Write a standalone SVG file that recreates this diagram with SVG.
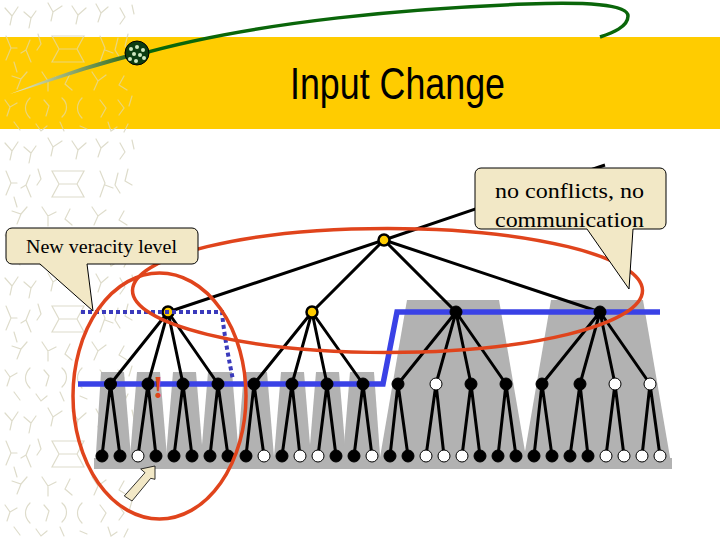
<svg xmlns="http://www.w3.org/2000/svg" xmlns:xlink="http://www.w3.org/1999/xlink" width="720" height="540" viewBox="0 0 720 540">
<style>
.edge{stroke:#000;stroke-width:3;fill:none}
.gray{fill:#b2b2b2}
.k{fill:#000;stroke:#000;stroke-width:1}
.w{fill:#fff;stroke:#000;stroke-width:1}
.y{fill:#ffcc00;stroke:#000;stroke-width:2.5}
.red{fill:none;stroke:#e0441c;stroke-width:3.500}
.call{fill:#f2e8c6;stroke:#000;stroke-width:1}
.ct{font-family:"Liberation Serif",serif;fill:#000}
.bg{fill:none;stroke:#dedccb;stroke-width:1.2;stroke-linecap:round}
</style>
<defs>
<linearGradient id="fade" x1="0" y1="0" x2="1" y2="0"><stop offset="0" stop-color="#f2ecc8"/><stop offset="1" stop-color="#2d6a1c"/></linearGradient>
<pattern id="tile" width="140" height="135" patternUnits="userSpaceOnUse">
<path class="bg" d="M5 8l7 8 6-9M12 16l-2 9M24 12l7 6 5-7M31 18l-2 10M48 3l5 9 9-6M53 12l-2 9M72 6l6 9 8-7M78 15l-2 9M96 4l5 9 7-6M101 13l-3 9M120 8l5 9M125 17l-5 7M132 5l2 9"/>
<path class="bg" d="M52 36h32l-7 13 7 13H52l7-13zM60 49h16M6 36l5 12-5 12M11 48h6M14 62l3 10M30 40l-4 10 5 12M26 50l-5 3M38 34l3 10-4 6M100 36l5 12-5 14M105 50l8 3M118 38l-3 12 5 8M128 34l-3 12M125 46l7 4"/>
<path class="bg" d="M12 76l9 3 6-7M21 79l-4 10M42 72l6 9 8-4M48 81v10M70 74l-5 10 7 6M92 72l6 9 8-6M98 81l-4 9M124 76l-5 9M119 85l8 5"/>
<path class="bg" d="M5 100l5 7 7-4M10 107l-3 9M30 98c-6 6-6 14 0 20M44 100l5 6-3 10M62 98c6 5 6 13 0 19M82 98c-6 6-6 14 0 20M100 100l6 8-5 9M118 100l6 8-5 7M132 96l-3 10"/>
<path class="bg" d="M14 122l6 8M36 124l5 7 6-5M60 122l4 9M80 126l7 3M108 122l3 9 6-4M128 124l-4 8"/>
</pattern>
</defs>
<rect width="720" height="540" fill="#fff"/>
<rect x="0" y="0" width="140" height="540" fill="url(#tile)"/>
<g id="title-bar">
<rect x="0" y="37" width="720" height="92" fill="#ffcc00"/>
<rect x="0" y="37" width="140" height="92" fill="url(#tile)" opacity=".6"/>
<text x="290" y="99" font-family="'Liberation Sans',sans-serif" font-size="44" textLength="215" lengthAdjust="spacingAndGlyphs" fill="#000">Input Change</text>
</g>
<g id="swoosh">
<path d="M10 94C50 78 85 65 128 54L129 58C90 68 50 82 10 94z" fill="url(#fade)"/>
<path d="M137 55C260 20 420 8 527 4C585 2 628 4 628 16C628 27 612 33 600 37" fill="none" stroke="#0a660a" stroke-width="3.500"/>
<circle cx="137" cy="53" r="12" fill="#0c3d12" stroke="#000"/>
<g fill="#cfe8c0"><circle cx="131" cy="49" r="2"/><circle cx="137" cy="47" r="2"/><circle cx="143" cy="50" r="2"/><circle cx="134" cy="54" r="2"/><circle cx="140" cy="55" r="2"/><circle cx="130" cy="59" r="2"/><circle cx="136" cy="61" r="2"/><circle cx="144" cy="58" r="2"/></g>
</g>
<g id="gray-shading">
<polygon class="gray" points="101,372 124,372 132,469 95,469"/>
<polygon class="gray" points="137,372 160,372 168,469 129,469"/>
<polygon class="gray" points="173,372 196,372 204,469 165,469"/>
<polygon class="gray" points="208,372 232,372 240,469 200,469"/>
<polygon class="gray" points="244,372 267,372 275,469 236,469"/>
<polygon class="gray" points="281,372 304,372 312,469 273,469"/>
<polygon class="gray" points="316,372 339,372 347,469 308,469"/>
<polygon class="gray" points="350,372 374,372 381,469 342,469"/>
<polygon class="gray" points="407,300 499,300 528,469 378,469"/>
<polygon class="gray" points="551,300 643,300 672,469 522,469"/>
<rect class="gray" x="94" y="458" width="578" height="11"/>
</g>
<g id="connectors">
<path class="edge" d="M384 240L605 165M384 240L168 312M384 240L312 312M384 240L456 312M384 240L600 312"/>
<path class="edge" d="M168 312L110.500 384M168 312L148 384M168 312L183 384M168 312L218 384M312 312L254 384M312 312L292 384M312 312L327 384M312 312L363 384M456 312L398 384M456 312L436 384M456 312L471 384M456 312L506 384M600 312L542 384M600 312L580 384M600 312L615 384M600 312L650 384"/>
<path class="edge" d="M110.500 384L102 456M110.500 384L120 456M148 384L138 456M148 384L156 456M183 384L174 456M183 384L192 456M218 384L210 456M218 384L228 456M254 384L246 456M254 384L264 456M292 384L282 456M292 384L300 456M327 384L318 456M327 384L336 456M363 384L354 456M363 384L372 456M398 384L390 456M398 384L408 456M436 384L426 456M436 384L444 456M471 384L462 456M471 384L480 456M506 384L498 456M506 384L516 456M542 384L534 456M542 384L552 456M580 384L570 456M580 384L588 456M615 384L606 456M615 384L624 456M650 384L642 456M650 384L660 456"/>
<path id="level-line" d="M78 384H383L397 312H660" fill="none" stroke="#3a42e6" stroke-width="5.500"/>
</g>
<g id="root"><circle class="y" cx="384" cy="240" r="5.500"/></g>
<g id="n1"><circle class="y" cx="168" cy="312" r="5.500"/></g>
<g id="n2"><circle class="y" cx="312" cy="312" r="5.500"/></g>
<g id="n3"><circle class="k" cx="456" cy="312" r="6"/></g>
<g id="n4"><circle class="k" cx="600" cy="312" r="6"/></g>
<g id="mid">
<circle class="k" cx="110.500" cy="384" r="6"/><circle class="k" cx="148" cy="384" r="6"/><circle class="k" cx="183" cy="384" r="6"/><circle class="k" cx="218" cy="384" r="6"/><circle class="k" cx="254" cy="384" r="6"/><circle class="k" cx="292" cy="384" r="6"/><circle class="k" cx="327" cy="384" r="6"/><circle class="k" cx="363" cy="384" r="6"/><circle class="k" cx="398" cy="384" r="6"/><circle class="w" cx="436" cy="384" r="6"/><circle class="k" cx="471" cy="384" r="6"/><circle class="k" cx="506" cy="384" r="6"/><circle class="k" cx="542" cy="384" r="6"/><circle class="k" cx="580" cy="384" r="6"/><circle class="w" cx="615" cy="384" r="6"/><circle class="w" cx="650" cy="384" r="6"/>
</g>
<g id="leaves">
<circle class="k" cx="102" cy="456" r="6"/><circle class="k" cx="120" cy="456" r="6"/><circle class="w" cx="138" cy="456" r="6"/><circle class="k" cx="156" cy="456" r="6"/><circle class="k" cx="174" cy="456" r="6"/><circle class="k" cx="192" cy="456" r="6"/><circle class="k" cx="210" cy="456" r="6"/><circle class="k" cx="228" cy="456" r="6"/><circle class="k" cx="246" cy="456" r="6"/><circle class="w" cx="264" cy="456" r="6"/><circle class="k" cx="282" cy="456" r="6"/><circle class="w" cx="300" cy="456" r="6"/><circle class="w" cx="318" cy="456" r="6"/><circle class="k" cx="336" cy="456" r="6"/><circle class="k" cx="354" cy="456" r="6"/><circle class="w" cx="372" cy="456" r="6"/><circle class="k" cx="390" cy="456" r="6"/><circle class="k" cx="408" cy="456" r="6"/><circle class="w" cx="426" cy="456" r="6"/><circle class="w" cx="444" cy="456" r="6"/><circle class="w" cx="462" cy="456" r="6"/><circle class="k" cx="480" cy="456" r="6"/><circle class="k" cx="498" cy="456" r="6"/><circle class="k" cx="516" cy="456" r="6"/><circle class="k" cx="534" cy="456" r="6"/><circle class="k" cx="552" cy="456" r="6"/><circle class="k" cx="570" cy="456" r="6"/><circle class="k" cx="588" cy="456" r="6"/><circle class="w" cx="606" cy="456" r="6"/><circle class="w" cx="624" cy="456" r="6"/><circle class="w" cx="642" cy="456" r="6"/><circle class="w" cx="660" cy="456" r="6"/>
</g>
<path id="new-level" d="M81 312H222C224 335 229 360 233 380" fill="none" stroke="#3a3abc" stroke-width="4" stroke-dasharray="4 3"/>
<text id="bang" x="158" y="398" text-anchor="middle" font-family="'Liberation Serif',serif" font-weight="bold" font-size="32" fill="#e0441c">!</text>
<polygon id="input-arrow" points="155,466 140.700,469 145,472.700 124.300,496 132,501 150.700,478.300 155,479.300" fill="#f2e8c6" stroke="#000" stroke-width=".8"/>
<ellipse class="red" cx="387.500" cy="290.500" rx="255" ry="62"/>
<ellipse class="red" cx="159.500" cy="396" rx="86.500" ry="123"/>
<g id="callout-veracity">
<path class="call" d="M12 228H192a6 6 0 0 1 6 6V258a6 6 0 0 1-6 6H87L93 311 40 264H12a6 6 0 0 1-6-6V234a6 6 0 0 1 6-6z"/>
<text class="ct" x="26" y="253" font-size="19" textLength="151" lengthAdjust="spacingAndGlyphs">New veracity level</text>
</g>
<g id="callout-conflicts">
<path class="call" d="M481 168H660a6 6 0 0 1 6 6V223a6 6 0 0 1-6 6H633L629 289 587 229H481a6 6 0 0 1-6-6V174a6 6 0 0 1 6-6z"/>
<text class="ct" x="495" y="198" font-size="22" textLength="149" lengthAdjust="spacingAndGlyphs">no conflicts, no</text>
<text class="ct" x="495" y="227" font-size="22" textLength="149" lengthAdjust="spacingAndGlyphs">communication</text>
</g>
</svg>
